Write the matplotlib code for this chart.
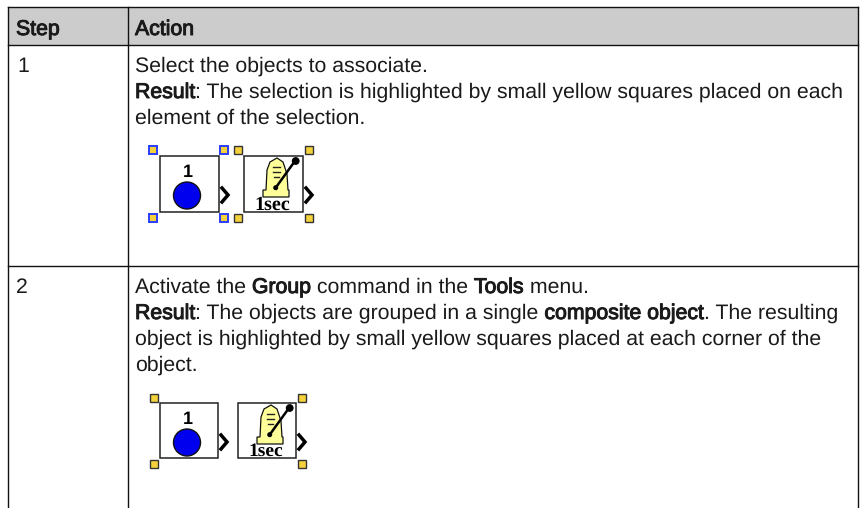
import matplotlib
matplotlib.use("Agg")
import matplotlib.pyplot as plt
import matplotlib.patheffects as pe
from matplotlib.patches import Rectangle, Circle, Polygon

W, H = 863, 508
headers = ["Step", "Action"]
steps = ["1", "2"]
row1_lines = [
    [("Select the objects to associate.", False)],
    [("Result", True), (": The selection is highlighted by small yellow squares placed on each", False)],
    [("element of the selection.", False)],
]
row2_lines = [
    [("Activate the ", False), ("Group", True), (" command in the ", False), ("Tools", True), (" menu.", False)],
    [("Result", True), (": The objects are grouped in a single ", False), ("composite object", True), (". The resulting", False)],
    [("object is highlighted by small yellow squares placed at each corner of the", False)],
    [("object.", False)],
]

plt.rcParams["font.family"] = ["Liberation Sans", "DejaVu Sans"]
plt.rcParams["text.hinting"] = "none"
fig = plt.figure(figsize=(W / 100, H / 100), dpi=100, facecolor="white")
ax = fig.add_axes([0, 0, 1, 1])
ax.set_xlim(0, W)
ax.set_ylim(H, 0)
ax.axis("off")
FS = 15.3
INK = "#1a1a1a"
FAUX_BOLD = [pe.withStroke(linewidth=0.7, foreground=INK)]
renderer = fig.canvas.get_renderer()


def label(x, y, s, bold=False):
    # the reference's bold is a smeared regular face, so it keeps regular widths
    t = ax.text(x, y, s, fontsize=FS, color=INK, va="baseline")
    if bold:
        t.set_path_effects(FAUX_BOLD)
    return t


def runs(x, y, parts):
    for s, bold in parts:
        x += label(x, y, s, bold).get_window_extent(renderer).width


# table
LX, CX, RX, TY, HY, RY = 7.5, 127.5, 857.5, 6.5, 44.5, 266.0
ax.add_patch(Rectangle((LX, TY), RX - LX, HY - TY, fc="#cccccc", ec="none"))
for y in (TY, HY, RY):
    ax.plot([LX, RX], [y, y], color="#111111", lw=1.0)
for x in (LX, CX, RX):
    ax.plot([x, x], [TY, H], color="#111111", lw=1.0)
label(16, 35, headers[0], True)
label(135, 35, headers[1], True)
label(17, 72, steps[0])
label(16, 293, steps[1])
for i, parts in enumerate(row1_lines):
    runs(135, 72 + i * 26, parts)
for i, parts in enumerate(row2_lines):
    runs(135, 293 + i * 26, parts)


def handle(cx, cy, edge, lw):
    ax.add_patch(Rectangle((cx - 4, cy - 4), 8, 8, fc="#f5d23c", ec=edge, lw=lw, zorder=6))


def chevron(x, y):
    ax.plot([x, x + 6, x], [y, y + 7, y + 14], color="black", lw=2.5, zorder=5,
            solid_joinstyle="miter")


def circle_icon(x0, y0, w, h):
    ax.add_patch(Rectangle((x0, y0), w, h, fc="white", ec="#222222", lw=1.1))
    ax.text(x0 + 28, y0 + 21, "1", fontsize=13, fontweight="bold", ha="center", va="baseline", color="black")
    ax.add_patch(Circle((x0 + 27.5, y0 + 39.5), 13.5, fc="#0000ee", ec="#111111", lw=1.0))
    chevron(x0 + w + 3, y0 + 32)


def timer_icon(x0, y0, w, h, fs):
    ax.add_patch(Rectangle((x0, y0), w, h, fc="white", ec="#222222", lw=1.1))
    body = [(x0 + 19, y0 + 41), (x0 + 19, y0 + 34), (x0 + 22, y0 + 34), (x0 + 23, y0 + 14),
            (x0 + 26, y0 + 6), (x0 + 33, y0 + 2), (x0 + 39, y0 + 6), (x0 + 43, y0 + 18),
            (x0 + 44, y0 + 34), (x0 + 45, y0 + 34), (x0 + 45, y0 + 41)]
    ax.add_patch(Polygon(body, closed=True, fc="#ffff99", ec="#111111", lw=0.9, zorder=3))
    for dy, a, b in ((11, 29, 36), (16, 29, 36), (21, 30, 35)):
        ax.plot([x0 + a, x0 + b], [y0 + dy, y0 + dy], color="#222222", lw=1.0, zorder=4)
    ax.plot([x0 + 31.7, x0 + 51], [y0 + 31.7, y0 + 5], color="black", lw=1.8, zorder=4)
    ax.add_patch(Circle((x0 + 51.7, y0 + 5), 3.2, fc="black", ec="black", zorder=4))
    ax.add_patch(Circle((x0 + 31.7, y0 + 31.7), 1.8, fc="black", ec="black", zorder=4))
    ax.text(x0 + w / 2 - 1, y0 + h - 2.5, "1sec", fontsize=fs, fontweight="bold", family="Liberation Serif",
            ha="center", va="baseline", color="black", zorder=5)
    chevron(x0 + w + 3, y0 + 32)


# row 1 icons
circle_icon(159.5, 156, 59.5, 56)
timer_icon(244, 156, 59, 56, 14.5)
for cx in (153, 224):
    for cy in (150, 218):
        handle(cx, cy, "#2b3cff", 1.4)
for cx in (238, 309):
    for cy in (150, 218):
        handle(cx, cy, "#333333", 1.0)

# row 2 icons
circle_icon(159.5, 403, 58.5, 55)
timer_icon(238, 403, 58, 55, 14)
for cx in (153.5, 301.5):
    for cy in (397.5, 463.5):
        handle(cx, cy, "#333333", 1.0)

fig.savefig("out.png", dpi=100, facecolor="white")
